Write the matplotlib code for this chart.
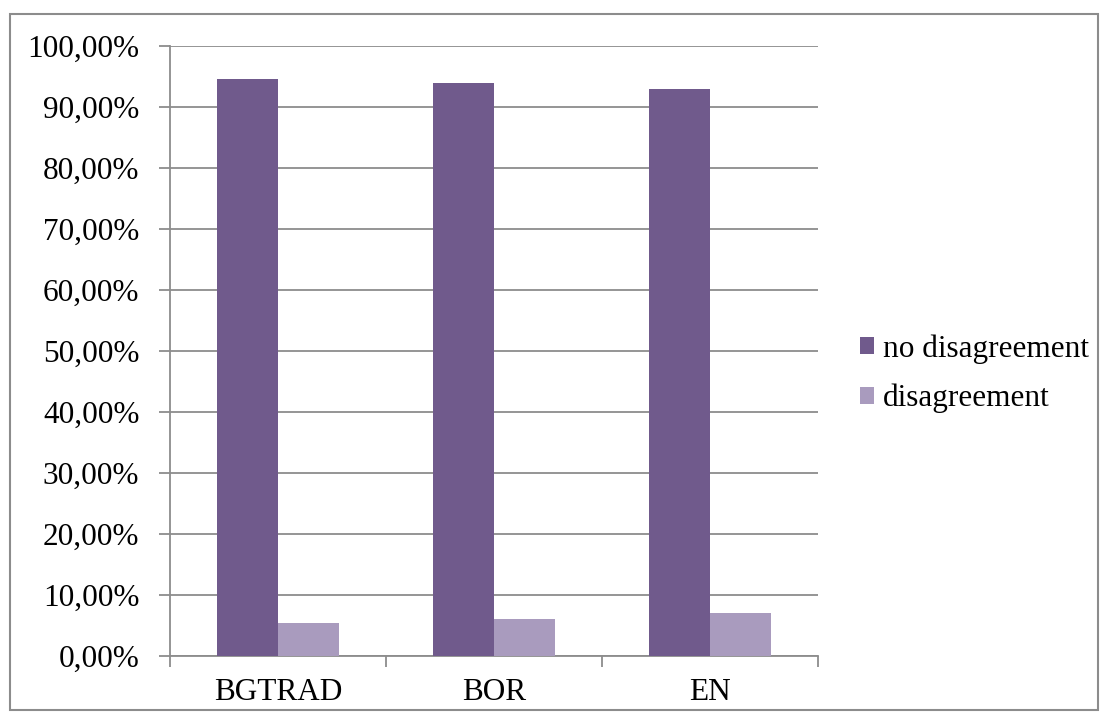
import matplotlib
matplotlib.use("Agg")
import matplotlib.pyplot as plt
import numpy as np
from matplotlib.patches import Rectangle
from matplotlib.ticker import FuncFormatter

categories = ["BGTRAD", "BOR", "EN"]
no_disagreement = [94.6, 94.0, 93.0]
disagreement = [5.4, 6.0, 7.0]
series_names = ["no disagreement", "disagreement"]
colors = ["#705A8C", "#A99BBE"]

plt.rcParams["font.family"] = ["Liberation Serif", "DejaVu Serif"]
fs = 22.5

fig = plt.figure(figsize=(11.08, 7.2), dpi=100)
fig.patches.append(Rectangle((0.009, 0.014), 0.982, 0.967, transform=fig.transFigure,
                             fill=False, edgecolor="#8c8c8c", linewidth=1.5))

ax = fig.add_axes([0.1534, 0.0889, 0.5848, 0.8472])
x = np.arange(len(categories))
w = 0.283
ax.bar(x - w / 2, no_disagreement, w, color=colors[0], label=series_names[0], zorder=3)
ax.bar(x + w / 2, disagreement, w, color=colors[1], label=series_names[1], zorder=3)

ax.set_xlim(-0.5, len(categories) - 0.5)
ax.set_ylim(0, 100)
ax.set_yticks(np.arange(0, 101, 10))
ax.yaxis.set_major_formatter(FuncFormatter(lambda v, p: f"{v:.2f}%".replace(".", ",")))
ax.yaxis.grid(True, color="#8c8c8c", linewidth=1.3, zorder=0)

# category boundaries get the tick marks, labels sit in between
ax.set_xticks(np.arange(-0.5, len(categories), 1.0))
ax.set_xticklabels([])
ax.set_xticks(x, minor=True)
ax.set_xticklabels(categories, minor=True)
ax.tick_params(axis="x", which="major", length=8, width=1.3, color="#8c8c8c", direction="out")
ax.tick_params(axis="x", which="minor", length=0, pad=16, labelsize=fs)
ax.tick_params(axis="y", length=8, width=1.3, color="#8c8c8c", pad=14, labelsize=fs)

for s in ["top", "right"]:
    ax.spines[s].set_visible(False)
for s in ["left", "bottom"]:
    ax.spines[s].set_color("#8c8c8c")
    ax.spines[s].set_linewidth(1.3)

fig.legend(loc="center left", bbox_to_anchor=(0.776, 0.481), frameon=False, fontsize=fs,
           handlelength=0.45, handleheight=0.45, handletextpad=0.3, labelspacing=0.65,
           borderpad=0, borderaxespad=0)

fig.savefig("out.png", dpi=100)
